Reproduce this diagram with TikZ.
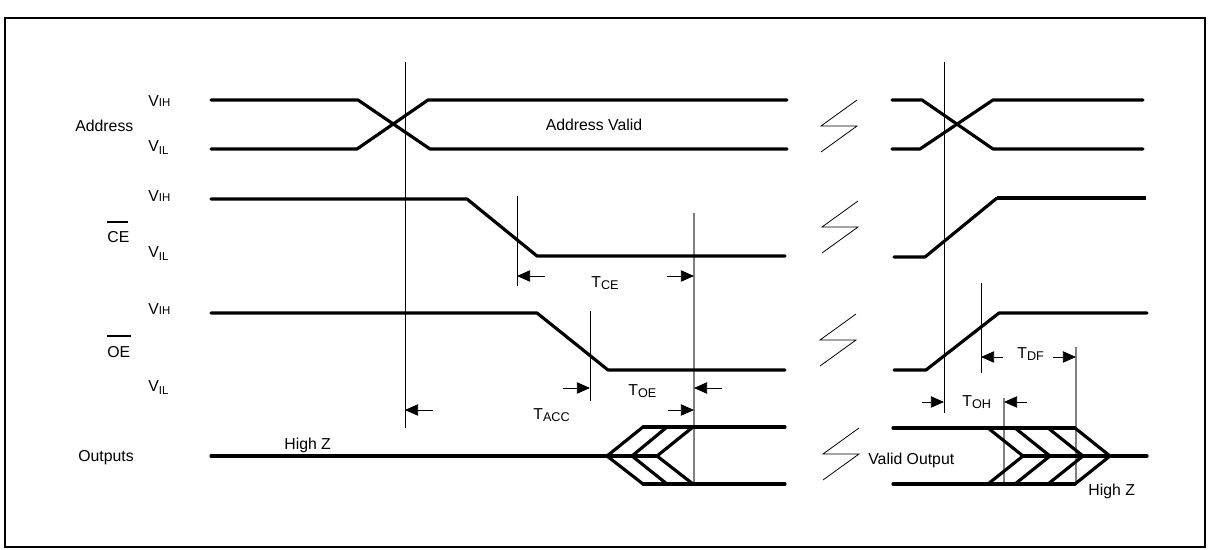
\documentclass[tikz,border=0pt]{standalone}
\usepackage{fontspec}
\setmainfont{Liberation Sans}
\usetikzlibrary{arrows.meta}

% level / timing labels: big letter, small suffix
\newcommand{\lvl}[2]{#1{\fontsize{6.5}{7}\selectfont #2}}
\newcommand{\lvlo}[2]{#1\raisebox{-0.3ex}{\fontsize{6.5}{7}\selectfont #2}}
\newcommand{\tm}[2]{#1\raisebox{-0.2ex}{\fontsize{7.2}{8}\selectfont #2}}

\tikzset{
  sig/.style={line width=1.8pt,line join=round,line cap=round},
  guide/.style={line width=0.55pt},
  gguide/.style={line width=0.6pt,gray},
  brk/.style={line width=0.45pt},
  tarrow/.style={line width=0.5pt,-{Triangle[length=7.5pt,width=6.5pt]}},
  lbl/.style={font=\fontsize{9}{11}\selectfont,inner sep=0pt,anchor=base west}
}

\begin{document}
\begin{tikzpicture}[x=0.02cm,y=-0.02cm]
        \useasboundingbox (0,0) rectangle (1211,550) ;
        \draw[line width=0.9pt] (5,18) rectangle (1205,547) ;
        %\draw[very thin,gray,step=50] (0,0) grid (1211,550) ;

        % labels on the left
        \node[lbl] (addr) at (75,132) {Address} ;
        \node[lbl] (outs) at (78,462) {Outputs} ;
        \node[lbl] (ce) at (107,243) {CE} ;
        \draw[line width=1.3pt] (107,222) -- (128,222) ;
        \node[lbl] (oe) at (107,358) {OE} ;
        \draw[line width=1.3pt] (107,336) -- (131,336) ;
        \node[lbl] (aih) at (148,107) {\lvl{V}{IH}} ;
        \node[lbl] (ail) at (148,152) {\lvlo{V}{IL}} ;
        \node[lbl] (cih) at (148,202) {\lvl{V}{IH}} ;
        \node[lbl] (cil) at (148,258) {\lvlo{V}{IL}} ;
        \node[lbl] (oih) at (148,315) {\lvl{V}{IH}} ;
        \node[lbl] (oil) at (148,392) {\lvlo{V}{IL}} ;

        % guide lines
        \draw[guide] (405,62) -- (405,428) ;
        \draw[guide] (944,62) -- (944,413) ;
        \draw[guide] (517,196) -- (517,286) ;
        \draw[guide] (590,311) -- (590,401) ;
        \draw[guide] (981,283) -- (981,373) ;
        \draw[gguide] (694,213) -- (694,484) ;
        \draw[gguide] (1004,398) -- (1004,484) ;
        \draw[gguide] (1076,347) -- (1076,484) ;

        % Address
        \draw[sig] (211,100) -- (358,100) -- (430,149) -- (787,149) ;
        \draw[sig] (211,149) -- (357,149) -- (428,100) -- (787,100) ;
        \node[lbl,anchor=base] (aval) at (594,131) {Address Valid} ;
        \draw[sig] (892,100) -- (922,100) -- (993,149) -- (1143,149) ;
        \draw[sig] (892,149) -- (920,149) -- (993,100) -- (1143,100) ;

        % CE
        \draw[sig] (211,199) -- (467,199) -- (537,256) -- (785,256) ;
        \draw[sig] (894,257) -- (925,257) -- (997,198) ;
        \draw[sig,line width=2.8pt,line cap=butt] (997,198) -- (1146,198) ;

        % OE
        \draw[sig] (211,313) -- (537,313) -- (608,370) -- (785,370) ;
        \draw[sig] (894,370) -- (926,370) -- (999,313) -- (1147,313) ;

        % Outputs
        \draw[sig] (211,456) -- (657,456) ;
        \draw[sig] (643,427) -- (785,427) ;
        \draw[sig] (643,484) -- (785,484) ;
        \foreach \e/\t in {643/607,667/632,693/657}
          \draw[sig] (\e,427) -- (\t,456) -- (\e,484) ;
        \node[lbl] (hz1) at (284,450) {High Z} ;
        \draw[sig] (893,428) -- (1075,428) ;
        \draw[sig] (893,484) -- (1075,484) ;
        \draw[sig] (1023,456) -- (1147,456) ;
        \foreach \s in {988,1015,1048,1075}
          \draw[sig] (\s,428) -- (\s+35,456) -- (\s,484) ;
        \node[lbl] (vout) at (868,465) {Valid Output} ;
        \node[lbl] (hz2) at (1088,496) {High Z} ;

        % breaks
        \foreach \x/\y in {857/100,858/201,856/314,859/428}
          \draw[brk] (\x,\y) -- (\x-36,\y+26) -- (\x,\y+26) -- (\x-36,\y+52) ;

        % timing
        \draw[tarrow] (545,276) -- (517,276) ;
        \draw[tarrow] (667,276) -- (694,276) ;
        \node[lbl] (tce) at (591,288) {\tm{T}{CE}} ;
        \draw[tarrow] (563,388) -- (590,388) ;
        \draw[tarrow] (722,388) -- (694,388) ;
        \node[lbl] (toe) at (628,396) {\tm{T}{OE}} ;
        \draw[tarrow] (433,410) -- (405,410) ;
        \draw[tarrow] (668,410) -- (694,410) ;
        \node[lbl] (tacc) at (533,420) {\tm{T}{ACC}} ;
        \draw[tarrow] (1003,357) -- (981,357) ;
        \draw[tarrow] (1053,357) -- (1076,357) ;
        \node[lbl] (tdf) at (1017,359) {\tm{T}{DF}} ;
        \draw[tarrow] (922,402) -- (944,402) ;
        \draw[tarrow] (1027,402) -- (1004,402) ;
        \node[lbl] (toh) at (962,407) {\tm{T}{OH}} ;
      \end{tikzpicture}
\end{document}
